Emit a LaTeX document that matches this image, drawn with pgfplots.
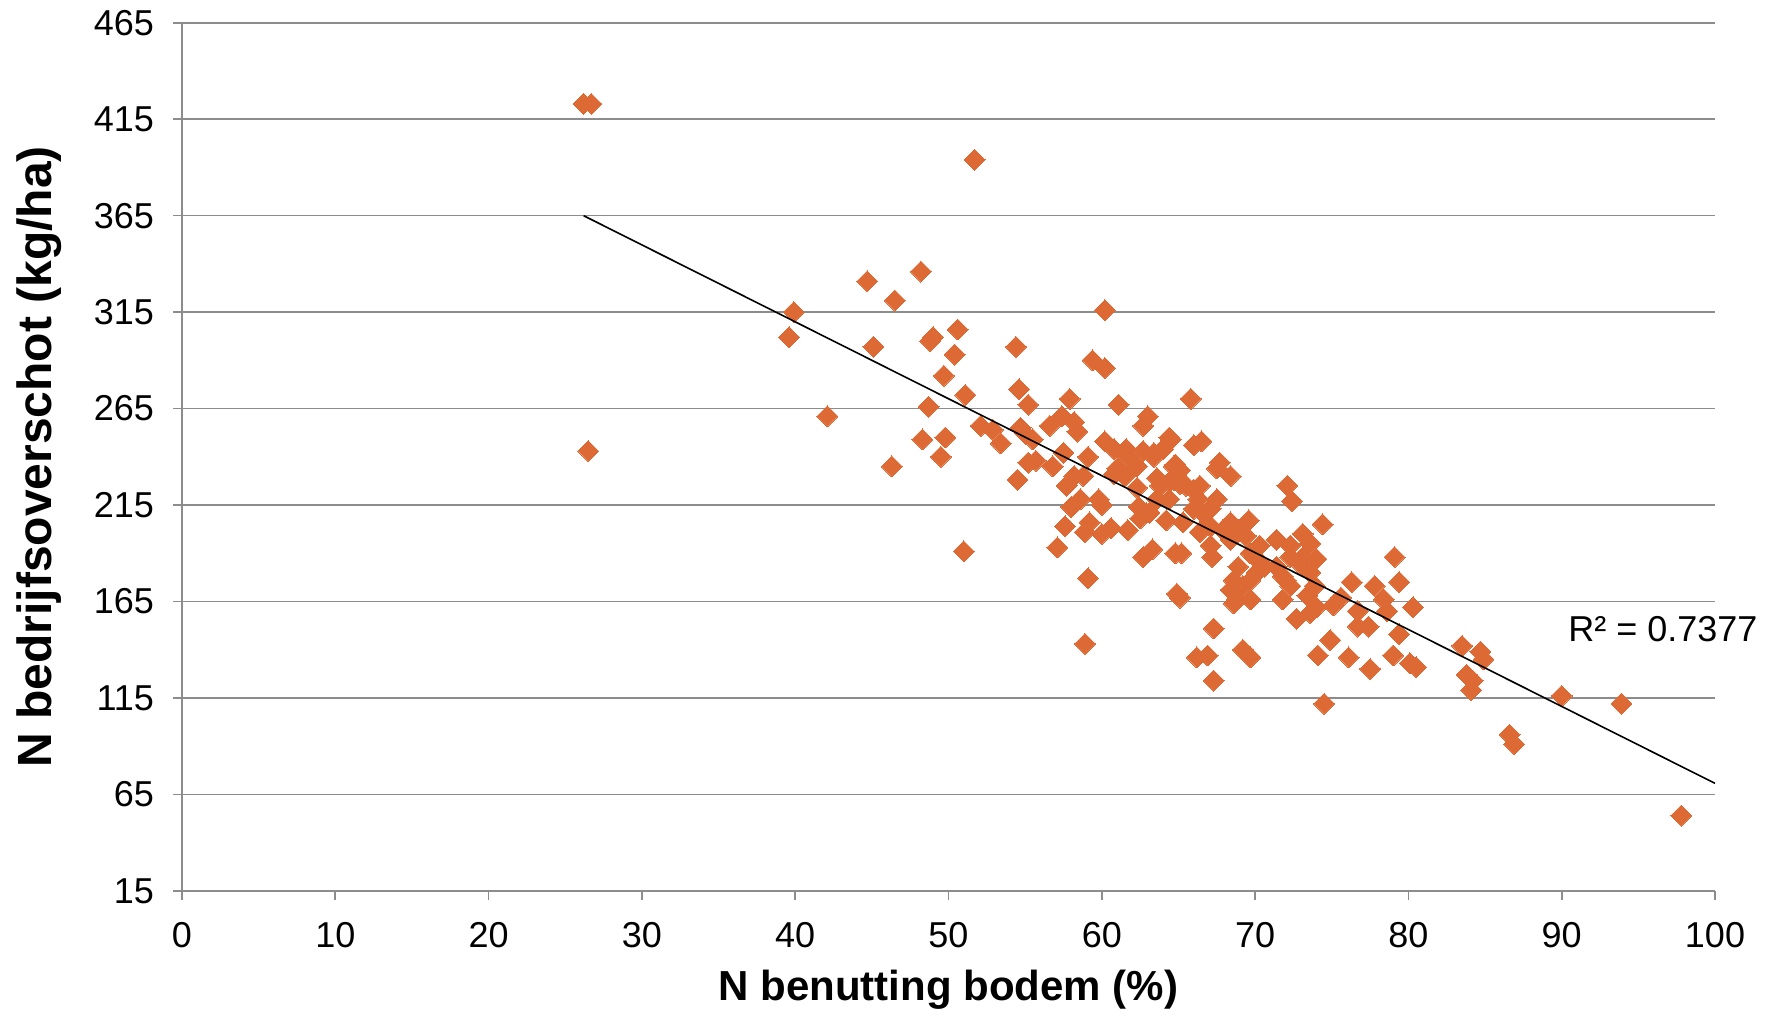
\documentclass[border=0pt]{standalone}
\usepackage{pgfplots}
\pgfplotsset{compat=1.18}
\usepackage{fontspec}
\setmainfont{Liberation Sans}
\definecolor{markorange}{RGB}{221,106,52}
\definecolor{gridgray}{RGB}{140,140,140}

\pgfplotstableread{
x y
26.2 423
26.7 423
26.5 243
39.6 302
39.9 315
42.1 261
44.7 331
45.1 297
46.3 235
46.5 321
48.2 336
48.3 249
48.7 266
48.8 300
49.0 302
49.5 240
49.7 282
49.8 250
50.4 293
50.6 306
51.0 191
51.1 272
51.7 394
52.1 256
52.9 254
53.4 247
54.4 297
54.5 228
54.6 275
54.7 255
55.0 252
55.2 267
55.2 237
55.5 249
55.7 238
56.6 256
56.8 235
57.1 193
57.4 261
57.5 242
57.6 204
57.7 225
57.9 270
58.0 214
58.2 258
58.2 230
58.4 253
58.6 218
58.8 230
58.9 201
58.9 143
59.1 240
59.1 177
59.2 206
59.4 290
59.8 218
60.0 215
60.0 200
60.2 316
60.2 286
60.2 248
60.6 203
60.8 244
60.8 231
61.0 234
61.1 267
61.5 230
61.6 244
61.7 240
61.7 202
62.3 235
62.3 224
62.4 214
62.5 208
62.7 243
62.7 256
62.7 188
62.9 211
63.0 261
63.1 211
63.3 192
63.4 240
63.4 242
63.6 229
63.6 218
63.8 225
64.0 244
64.2 207
64.4 250
64.4 227
64.4 218
64.5 249
64.7 235
64.7 228
64.8 190
64.8 236
64.9 169
65.1 167
65.1 233
65.1 226
65.2 190
65.3 206
65.5 225
65.8 270
66.0 246
66.0 223
66.0 213
66.2 136
66.3 218
66.4 225
66.4 201
66.5 248
66.7 210
66.9 137
67.1 213
67.1 204
67.1 194
67.2 188
67.3 151
67.3 124
67.5 234
67.5 218
67.7 237
67.9 202
68.4 230
68.4 206
68.4 197
68.4 171
68.6 176
68.6 164
68.8 166
68.9 202
68.9 183
69.2 173
69.2 140
69.4 199
69.6 207
69.7 166
69.7 176
69.7 190
69.7 136
70.0 188
70.1 180
70.3 194
70.6 183
71.4 197
71.4 183
71.8 178
71.8 166
72.0 176
72.1 225
72.3 194
72.3 188
72.3 173
72.4 217
72.7 156
73.0 184
73.1 200
73.1 188
73.4 168
73.6 195
73.6 180
73.6 159
73.9 173
74.0 187
74.0 162
74.1 137
74.4 205
74.5 112
74.9 145
75.1 163
75.6 167
76.1 136
76.3 175
76.7 160
76.7 152
77.4 152
77.5 130
77.8 173
78.4 166
78.6 160
79.0 137
79.1 188
79.4 175
79.4 148
80.1 133
80.3 162
80.5 131
83.5 142
83.8 127
84.1 119
84.2 124
84.7 139
84.9 135
86.6 96
86.9 91
90.0 116
93.9 112
97.8 54
}\farms

\begin{document}
\begin{tikzpicture}
\begin{axis}[
    name=ax,
    scale only axis,
    width=766.5pt, height=434pt,
    xmin=0, xmax=100, ymin=15, ymax=465,
    xtick={0,10,...,100},
    ytick={15,65,...,465},
    axis x line*=bottom, axis y line*=left,
    axis line style={-, gridgray, line width=0.8pt},
    ymajorgrids,
    grid style={gridgray, line width=0.8pt},
    tick align=outside,
    major tick length=4.5pt,
    tick style={gridgray, line width=0.8pt},
    ticklabel style={font=\fontsize{18}{21}\selectfont},
    /pgf/number format/assume math mode=true,
    xticklabel style={anchor=center, yshift=-17.5pt},
    yticklabel style={anchor=east, xshift=-6pt},
    xlabel={N benutting bodem (\%)},
    ylabel={N bedrijfsoverschot (kg/ha)},
    xlabel style={font=\bfseries\fontsize{21}{24}\selectfont,
        at={(axis description cs:0.5,-0.114)}, anchor=center},
    ylabel style={font=\bfseries\fontsize{24}{27}\selectfont,
        at={(axis description cs:-0.093,0.5)}, anchor=center},
    clip mode=individual,
]
\addplot[only marks, mark=square*, mark size=3.7pt,
    mark options={rotate=45, fill=markorange, draw=markorange, line width=0pt}]
    table[x=x, y=y] {\farms};
\addplot[black, line width=0.8pt, mark=none] coordinates {(26.2,365) (100,70.7)};
\node[font=\fontsize{18}{21}\selectfont, anchor=center] at (axis cs:96.6,150.5) {R² = 0.7377};
\end{axis}
\path[use as bounding box] ([xshift=-91pt,yshift=-62.5pt]ax.south west)
    rectangle ([xshift=29pt,yshift=11.4pt]ax.north east);
\end{tikzpicture}
\end{document}
